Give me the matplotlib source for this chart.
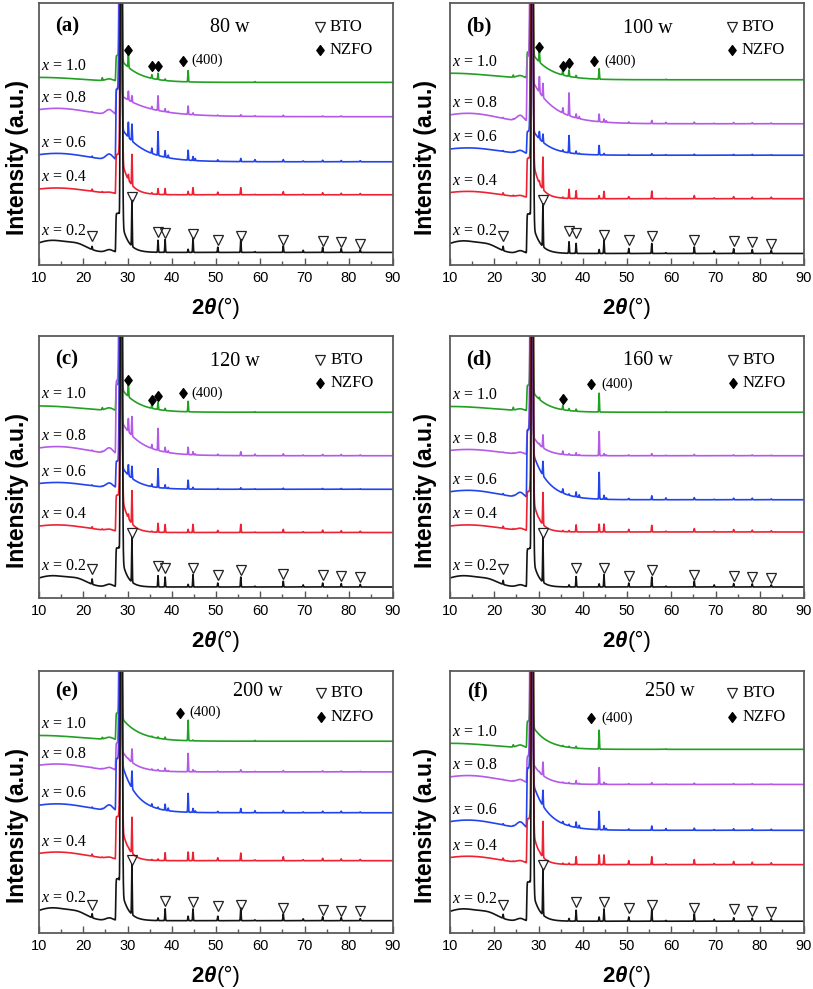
import numpy as np
import matplotlib
matplotlib.use("Agg")
import matplotlib.pyplot as plt
from matplotlib.ticker import MultipleLocator
from matplotlib.offsetbox import TextArea, HPacker, AnnotationBbox
from matplotlib.path import Path

SERIF = "Liberation Serif"
SANS = "Liberation Sans"
plt.rcParams["font.family"] = [SANS, "DejaVu Sans"]

# ---------------- data ----------------
COMPOSITIONS = ["0.2", "0.4", "0.6", "0.8", "1.0"]
COLORS = ["#141414", "#ee2233", "#2244ee", "#b45ae8", "#22a022"]
PANEL_LETTERS = ["(a)", "(b)", "(c)", "(d)", "(e)", "(f)"]
POWERS = ["80 w", "100 w", "120 w", "160 w", "200 w", "250 w"]

# 2theta of the sharp reflections (deg)
PEAK_POS = [22.0, 24.3, 30.2, 31.0, 35.5, 36.9, 38.5, 39.2, 43.7, 44.8,
            45.3, 50.4, 55.6, 58.8, 65.2, 69.7, 74.1, 78.3, 82.6]
MAIN_POS = [28.6, 28.55, 28.45, 28.35, 28.45]   # dominant reflection per x
BG_CENTER = [13.0, 14.0, 14.0, 14.0, 10.0]       # amorphous hump centre
BG_WIDTH = [4.5, 7.0, 7.0, 7.0, 10.0]

# ---- panel (a) 80 w ----
A_OFFSET = [4.8, 26.8, 39.4, 56.6, 69.7]
A_SHOULDER = [14.8, 15.0, 27.0, 10.0, 9.8]
A_TAIL_AMP = [12, 14, 13, 8, 8.5]
A_TAIL_LEN = [1.5, 1.8, 5.0, 7.0, 4.0]
A_BG = [[4.6, 1.5, 1.0], [2.6, 0, 0.4], [3.2, 0, 2.2], [3.2, 0, 2.0], [1.9, 0, 0.8]]
A_HEIGHTS = [
    [1.2, 0, 0, 17.5, 0, 4.6, 4.9, 0, 1.2, 5.5, 0, 2.0, 5.0, 0.3, 2.5, 0.8, 1.9, 1.5, 1.0],
    [0.8, 0.3, 2.0, 11.7, 0.5, 2.2, 2.3, 0, 1.3, 2.7, 0, 1.0, 2.7, 0.2, 1.2, 0.3, 0.8, 0.6, 0.5],
    [0.5, 0, 5.7, 6.4, 2.0, 9.1, 2.5, 1.0, 3.8, 1.5, 0.8, 0.6, 1.2, 0.8, 0.8, 0.3, 0.6, 0.5, 0.4],
    [0.3, 0, 3.4, 2.4, 1.0, 5.6, 1.2, 0.4, 3.2, 0.7, 0, 0.3, 0.6, 0.3, 0.5, 0, 0.3, 0.3, 0],
    [0, 1.0, 5.5, 0, 1.4, 2.4, 0.6, 0, 4.3, 0, 0, 0, 0, 0.3, 0, 0, 0, 0, 0],
]
A_BTO_X = [22.0, 31.0, 36.9, 38.5, 44.8, 50.4, 55.6, 65.2, 74.1, 78.3, 82.6]
A_BTO_Y = [11.0, 26.1, 12.6, 12.4, 12.0, 9.5, 11.0, 9.7, 9.2, 8.6, 8.2]
A_NZFO_X = [30.2, 35.5, 37.0, 42.6]
A_NZFO_Y = [82.1, 75.8, 75.8, 78.0]

# ---- panel (b) 100 w ----
B_OFFSET = [4.4, 25.3, 41.9, 53.9, 70.7]
B_SHOULDER = [15.0, 15.0, 8.6, 25.0, 10.0]
B_TAIL_AMP = [12, 16, 10, 17, 10]
B_TAIL_LEN = [1.6, 1.6, 3.5, 5.0, 4.0]
B_BG = [[4.8, 1.5, 1.0], [2.8, 0, 0.6], [2.8, 0, 1.2], [4.0, 0, 2.3], [2.5, 0, 0.9]]
B_HEIGHTS = [
    [1.6, 0, 0, 16.3, 0, 4.4, 3.8, 0, 1.5, 5.1, 0, 1.9, 3.8, 0.3, 2.5, 0.9, 1.8, 1.5, 1.2],
    [0.8, 0.3, 1.0, 12.3, 0.4, 3.5, 3.0, 0, 1.2, 2.8, 0, 0.8, 2.9, 0.2, 1.2, 0.3, 0.8, 0.6, 0.6],
    [0.3, 0.2, 2.8, 3.1, 0.7, 6.6, 1.0, 0.3, 3.6, 0.6, 0, 0.3, 0.6, 0.2, 0.4, 0, 0.3, 0.3, 0.2],
    [0.3, 0.3, 6.0, 5.2, 2.0, 8.7, 1.5, 0.8, 2.9, 1.2, 0.6, 0.5, 1.2, 0.5, 0.6, 0.2, 0.5, 0.4, 0.3],
    [0, 0.8, 4.2, 0, 2.2, 2.5, 0.8, 0, 4.0, 0, 0, 0, 0, 0.2, 0, 0, 0, 0, 0],
]
B_BTO_X = [22.0, 31.0, 36.9, 38.5, 44.8, 50.4, 55.6, 65.2, 74.1, 78.3, 82.6]
B_BTO_Y = [11.0, 24.9, 12.9, 12.4, 11.6, 9.5, 11.0, 9.7, 9.2, 8.8, 8.2]
B_NZFO_X = [30.2, 35.5, 37.0, 42.6]
B_NZFO_Y = [83.3, 75.8, 77.0, 77.9]

# ---- panel (c) 120 w ----
C_OFFSET = [4.2, 25.0, 41.5, 54.3, 70.9]
C_SHOULDER = [14.8, 13.8, 10.2, 28.0, 10.0]
C_TAIL_AMP = [12, 15, 9, 13.5, 9]
C_TAIL_LEN = [1.3, 1.6, 3.2, 4.5, 3.8]
C_BG = [[4.3, 1.5, 1.0], [2.9, 0, 0.6], [2.6, 0, 1.8], [3.5, 0, 2.2], [2.4, 0, 1.0]]
C_HEIGHTS = [
    [2.0, 0, 0, 17.0, 0, 4.3, 3.8, 0, 1.0, 4.7, 0, 1.5, 3.8, 0.3, 2.2, 0.8, 1.5, 1.3, 1.0],
    [0.7, 0.3, 1.5, 12.6, 0.3, 3.4, 3.0, 0, 1.2, 3.1, 0, 0.8, 3.1, 0.2, 1.2, 0.3, 0.9, 0.7, 0.5],
    [0.3, 0.2, 4.0, 4.6, 1.0, 7.2, 1.3, 0.4, 3.4, 0.7, 0, 0.3, 0.6, 0.2, 0.4, 0, 0.3, 0.3, 0.2],
    [0.3, 0.3, 5.0, 7.3, 1.5, 8.4, 1.8, 0.7, 2.8, 1.2, 0.4, 0.5, 1.5, 0.6, 0.7, 0.3, 0.5, 0.5, 0.3],
    [0, 0.8, 5.0, 0, 1.6, 2.7, 0.8, 0, 4.0, 0, 0, 0, 0, 0.2, 0, 0, 0, 0, 0],
]
C_BTO_X = [22.0, 31.0, 36.9, 38.5, 44.8, 50.4, 55.6, 65.2, 74.1, 78.3, 82.6]
C_BTO_Y = [11.1, 24.8, 12.3, 11.4, 11.4, 8.9, 10.8, 9.3, 8.9, 8.3, 7.9]
C_NZFO_X = [30.2, 35.5, 37.0, 42.5]
C_NZFO_Y = [83.2, 75.6, 77.1, 78.1]

# ---- panel (d) 160 w ----
D_OFFSET = [4.2, 25.2, 37.5, 54.3, 70.9]
D_SHOULDER = [14.5, 15.0, 26.0, 9.5, 9.8]
D_TAIL_AMP = [12, 14, 19, 8.5, 8]
D_TAIL_LEN = [1.3, 1.5, 3.5, 2.5, 3.2]
D_BG = [[4.3, 1.3, 0.8], [2.7, 0, 0.8], [3.6, 0, 2.0], [2.4, 0, 0.8], [2.2, 0, 0.7]]
D_HEIGHTS = [
    [1.5, 0, 0, 17.0, 0, 0.8, 4.0, 0, 1.2, 4.7, 0, 1.5, 3.8, 0.3, 2.2, 0.8, 1.3, 1.2, 0.8],
    [0.8, 0.3, 0.3, 12.2, 0.4, 0.5, 2.7, 0, 3.0, 3.0, 0, 1.0, 2.5, 0.3, 1.3, 0.3, 0.9, 0.7, 0.5],
    [0.5, 0.2, 0, 5.3, 1.6, 0.5, 1.9, 1.0, 10.2, 1.5, 0.6, 0.5, 1.5, 0.7, 0.8, 0.2, 0.6, 0.6, 0.3],
    [0.2, 0.2, 0.5, 4.9, 1.3, 0.5, 1.0, 0.3, 9.2, 0.8, 0.3, 0.3, 0.8, 0.2, 0.5, 0, 0.3, 0.3, 0.2],
    [0, 1.0, 0.8, 0, 1.7, 0.8, 0.8, 0, 7.2, 0, 0, 0, 0, 0.2, 0, 0, 0, 0, 0],
]
D_BTO_X = [22.0, 31.0, 38.5, 44.8, 50.4, 55.6, 65.2, 74.1, 78.3, 82.6]
D_BTO_Y = [11.1, 24.8, 11.4, 11.4, 8.5, 10.8, 8.9, 8.5, 8.0, 7.6]
D_NZFO_X = [35.6, 41.9]
D_NZFO_Y = [75.9, 81.6]

# ---- panel (e) 200 w ----
E_OFFSET = [4.7, 27.6, 45.9, 61.5, 73.2]
E_SHOULDER = [15.9, 16.3, 20.0, 10.5, 10.2]
E_TAIL_AMP = [12, 14, 20, 9, 9]
E_TAIL_LEN = [1.5, 1.5, 3.3, 2.8, 4.0]
E_BG = [[4.9, 1.5, 1.0], [3.3, 0, 0.6], [3.4, 0, 2.2], [3.0, 0, 1.0], [2.2, 0, 0.9]]
E_HEIGHTS = [
    [1.5, 0, 0, 19.0, 0, 1.0, 4.5, 0, 1.7, 4.5, 0, 1.7, 4.9, 0.3, 2.6, 0.7, 1.5, 1.2, 0.8],
    [0.8, 0.2, 0.3, 13.7, 0.3, 0.6, 3.0, 0, 3.3, 3.2, 0, 1.1, 2.9, 0.3, 1.5, 0.4, 0.9, 0.7, 0.5],
    [0.4, 0.2, 0, 6.5, 1.0, 0.6, 2.3, 1.0, 7.2, 1.5, 0.6, 0.5, 1.6, 0.8, 0.8, 0.3, 0.6, 0.6, 0.3],
    [0.2, 0.2, 0.3, 5.1, 0.4, 0.5, 1.2, 0.3, 7.0, 0.8, 0.3, 0.3, 0.8, 0.2, 0.5, 0, 0.4, 0.3, 0.2],
    [0, 0.6, 0, 0, 0.3, 0.5, 0.8, 0, 7.8, 0.3, 0, 0, 0, 0.3, 0, 0, 0, 0, 0],
]
E_BTO_X = [22.0, 31.0, 38.5, 44.8, 50.4, 55.6, 65.2, 74.1, 78.3, 82.6]
E_BTO_Y = [10.8, 27.8, 12.1, 11.7, 10.2, 10.8, 9.6, 8.9, 8.5, 8.3]
E_NZFO_X = [41.9]
E_NZFO_Y = [84.1]

# ---- panel (f) 250 w ----
F_OFFSET = [4.5, 26.1, 39.2, 56.7, 70.1]
F_SHOULDER = [14.9, 17.0, 23.0, 10.2, 10.2]
F_TAIL_AMP = [12, 14, 19, 9, 9]
F_TAIL_LEN = [1.5, 1.5, 3.5, 2.6, 3.3]
F_BG = [[4.7, 1.5, 1.0], [3.2, 0, 0.8], [3.9, 0, 2.3], [3.4, 0, 1.1], [2.3, 0, 1.0]]
F_HEIGHTS = [
    [1.5, 0, 0, 17.5, 0, 1.0, 4.2, 0, 1.6, 4.7, 0, 1.6, 4.4, 0.3, 2.8, 0.7, 1.3, 1.2, 0.9],
    [0.8, 0.2, 0.3, 13.6, 0.4, 0.5, 3.0, 0, 3.7, 3.7, 0, 1.5, 3.0, 0.3, 1.9, 0.4, 1.2, 0.9, 0.7],
    [0.5, 0.2, 0, 5.9, 0.8, 0.6, 2.1, 1.0, 7.0, 1.6, 0.6, 0.5, 1.6, 0.7, 0.8, 0.3, 0.6, 0.6, 0.4],
    [0.2, 0.2, 0.3, 5.1, 0.3, 0.4, 1.3, 0.3, 6.4, 0.8, 0.3, 0.3, 0.7, 0.2, 0.5, 0, 0.3, 0.3, 0.2],
    [0, 0.8, 0, 0, 0.3, 0.4, 0.7, 0, 7.2, 0, 0, 0, 0, 0.2, 0, 0, 0, 0, 0],
]
F_BTO_X = [22.0, 31.0, 38.5, 44.8, 50.4, 55.6, 65.2, 74.1, 78.3, 82.6]
F_BTO_Y = [10.8, 26.1, 11.7, 11.7, 9.6, 10.8, 9.6, 9.2, 8.5, 8.0]
F_NZFO_X = [41.9]
F_NZFO_Y = [81.9]

PANELS = [
    (A_OFFSET, A_SHOULDER, A_TAIL_AMP, A_TAIL_LEN, A_BG, A_HEIGHTS, A_BTO_X, A_BTO_Y, A_NZFO_X, A_NZFO_Y),
    (B_OFFSET, B_SHOULDER, B_TAIL_AMP, B_TAIL_LEN, B_BG, B_HEIGHTS, B_BTO_X, B_BTO_Y, B_NZFO_X, B_NZFO_Y),
    (C_OFFSET, C_SHOULDER, C_TAIL_AMP, C_TAIL_LEN, C_BG, C_HEIGHTS, C_BTO_X, C_BTO_Y, C_NZFO_X, C_NZFO_Y),
    (D_OFFSET, D_SHOULDER, D_TAIL_AMP, D_TAIL_LEN, D_BG, D_HEIGHTS, D_BTO_X, D_BTO_Y, D_NZFO_X, D_NZFO_Y),
    (E_OFFSET, E_SHOULDER, E_TAIL_AMP, E_TAIL_LEN, E_BG, E_HEIGHTS, E_BTO_X, E_BTO_Y, E_NZFO_X, E_NZFO_Y),
    (F_OFFSET, F_SHOULDER, F_TAIL_AMP, F_TAIL_LEN, F_BG, F_HEIGHTS, F_BTO_X, F_BTO_Y, F_NZFO_X, F_NZFO_Y),
]

# --------------- layout / styling (not data) ---------------
COL_LEFT = [39 / 813, 450 / 813]
AX_W = 354 / 813
ROW_BOTTOM = [1 - 265 / 989, 1 - 598 / 989, 1 - 933 / 989]
AX_H = 262 / 989
ANNOT = [
    dict(letter=(16.3, 91.0), power=(53.2, 90.5), leg=(73.5, 90.9, 82.1), t400=44.5),
    dict(letter=(16.6, 91.0), power=(54.8, 90.3), leg=(73.7, 90.9, 82.1), t400=44.9),
    dict(letter=(16.3, 91.0), power=(54.3, 90.2), leg=(73.6, 90.9, 82.2), t400=44.5),
    dict(letter=(16.6, 91.0), power=(54.7, 90.6), leg=(73.9, 90.9, 82.2), t400=44.1),
    dict(letter=(16.3, 92.2), power=(59.4, 92.0), leg=(73.7, 91.7, 82.4), t400=43.9),
    dict(letter=(16.2, 92.0), power=(59.6, 92.0), leg=(73.8, 91.5, 82.4), t400=44.1),
]

DIAMOND = Path([(0, 1), (0.75, 0), (0, -1), (-0.75, 0), (0, 1)],
               [Path.MOVETO, Path.LINETO, Path.LINETO, Path.LINETO, Path.CLOSEPOLY])
TRI_MS = 6.5
DIA_MS = 7


def gauss(x, c, s):
    return np.exp(-0.5 * ((x - c) / s) ** 2)


def pattern(x, i, offset, shoulder, tail_amp, tail_len, bg, heights):
    y = np.full_like(x, offset)
    y += bg[0] * gauss(x, BG_CENTER[i], BG_WIDTH[i])
    y += bg[1] * gauss(x, 19.0, 2.0)
    y += bg[2] * gauss(x, 25.9, 0.8)
    y += shoulder * np.exp(-((x - 27.75) / 0.42) ** 8)
    m = MAIN_POS[i]
    y += 250 * gauss(x, m, 0.17)
    step = 1 / (1 + np.exp(-(x - m) / 0.06))
    y += tail_amp * np.exp(-np.clip(x - m, 0, None) / tail_len) * step
    for p, h in zip(PEAK_POS, heights):
        if h:
            y += h * gauss(x, p, 0.07)
    return y


fig = plt.figure(figsize=(8.13, 9.89), dpi=100)
x = np.arange(10.0, 90.0001, 0.01)

for k, data in enumerate(PANELS):
    off, sh, ta, tl, bg, hts, btx, bty, nzx, nzy = data
    r, c = divmod(k, 2)
    ax = fig.add_axes([COL_LEFT[c], ROW_BOTTOM[r], AX_W, AX_H])
    for i in range(5):
        y = pattern(x, i, off[i], sh[i], ta[i], tl[i], bg[i], hts[i])
        ax.plot(x, y, color=COLORS[i], lw=1.2, zorder=2 + (4 - i) * 0.1)
        ly = y[30] + 4.4
        box = HPacker(children=[
            TextArea("x", textprops=dict(family=SERIF, style="italic", size=11.5)),
            TextArea(" = " + COMPOSITIONS[i], textprops=dict(family=SERIF, size=11.5)),
        ], pad=0, sep=0, align="baseline")
        ax.add_artist(AnnotationBbox(box, (10.6, ly), xycoords="data",
                                     box_alignment=(0, 0.5), frameon=False, pad=0))
    ax.plot(btx, bty, ls="none", marker="v", ms=TRI_MS, mfc="none", mec="#222222", mew=0.9, zorder=5)
    ax.plot(nzx, nzy, ls="none", marker=DIAMOND, ms=DIA_MS, color="black", zorder=5)
    a = ANNOT[k]
    ax.text(a["t400"], nzy[-1], "(400)", family=SERIF, size=10.5, ha="left", va="center")
    ax.text(*a["letter"], PANEL_LETTERS[k], family=SERIF, weight="bold", size=15,
            ha="center", va="center")
    ax.text(*a["power"], POWERS[k], family=SERIF, size=14.5, ha="center", va="center")
    lx, ty, dy = a["leg"]
    ax.plot([lx], [ty], ls="none", marker="v", ms=TRI_MS, mfc="none", mec="#222222", mew=0.9)
    ax.plot([lx], [dy], ls="none", marker=DIAMOND, ms=DIA_MS, color="black")
    ax.text(lx + 2.2, ty, "BTO", family=SERIF, size=12, ha="left", va="center")
    ax.text(lx + 2.2, dy, "NZFO", family=SERIF, size=12, ha="left", va="center")

    ax.set_xlim(10, 90)
    ax.set_ylim(0, 100)
    ax.set_yticks([])
    ax.xaxis.set_major_locator(MultipleLocator(10))
    ax.xaxis.set_minor_locator(MultipleLocator(5))
    ax.tick_params(axis="x", which="both", direction="in", colors="#555555",
                   labelcolor="black", labelsize=10.5, pad=4)
    ax.tick_params(axis="x", which="major", length=5, width=1)
    ax.tick_params(axis="x", which="minor", length=3, width=1)
    for lab in ax.get_xticklabels():
        lab.set_family(SANS)
    for s in ax.spines.values():
        s.set_color("#5a5a5a")
        s.set_linewidth(1.3)

    ax.set_ylabel("Intensity (a.u.)", family=SANS, weight="bold", size=16.5)
    ax.yaxis.set_label_coords(-0.060 if c == 0 else -0.069, 0.41)
    ax.yaxis.label.set_verticalalignment("center")

    xl = HPacker(children=[
        TextArea("2", textprops=dict(family=SANS, weight="bold", size=16)),
        TextArea("θ", textprops=dict(family=SANS, weight="bold", style="italic", size=16)),
        TextArea("(°)", textprops=dict(family=SANS, size=16)),
    ], pad=0, sep=0, align="baseline")
    ax.add_artist(AnnotationBbox(xl, (0.5, -0.165), xycoords="axes fraction",
                                 box_alignment=(0.5, 0.5), frameon=False, pad=0,
                                 annotation_clip=False))

fig.savefig("out.png", dpi=100)
